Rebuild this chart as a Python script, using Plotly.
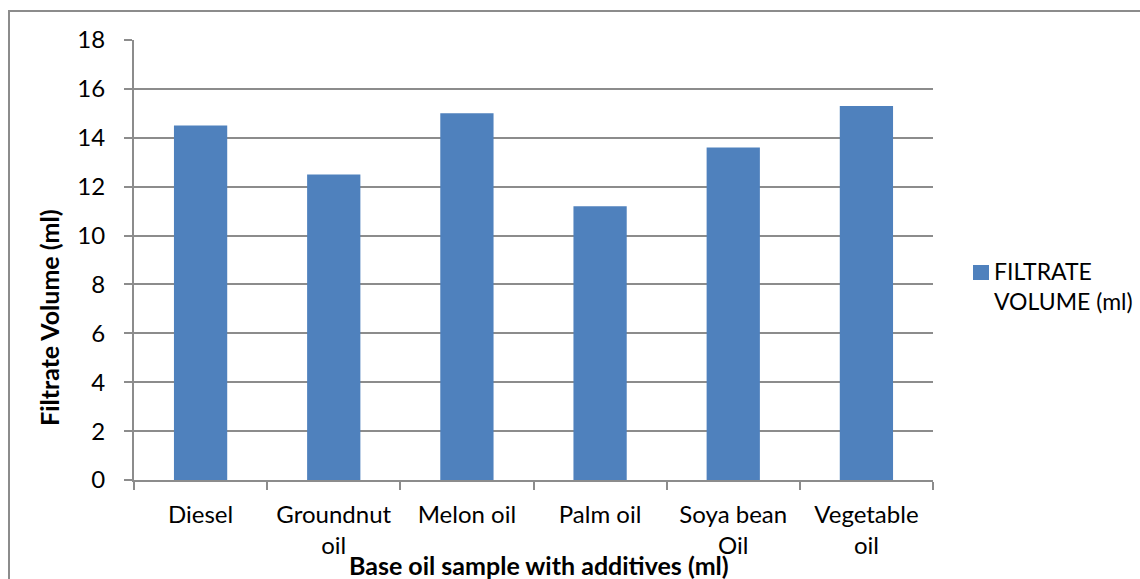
import plotly.graph_objects as go

# Filtrate volume of each base oil sample (with additives)
categories = ["Diesel", "Groundnut<br>oil", "Melon oil", "Palm oil", "Soya bean<br>Oil", "Vegetable<br>oil"]
filtrate_volume = [14.5, 12.5, 15.0, 11.2, 13.6, 15.3]
series_name = "FILTRATE<br>VOLUME (ml)"
y_ticks = [0, 2, 4, 6, 8, 10, 12, 14, 16, 18]

W, H = 1140, 579
L, R, T, B = 134, 207, 40, 99
FONT = "Lato"
GRID = "#8c8c8c"
BAR = "#4f81bd"

fig = go.Figure(
    go.Bar(
        x=categories,
        y=filtrate_volume,
        name=series_name,
        marker=dict(color=BAR, line=dict(width=0)),
        showlegend=False,
    )
)

def px_x(x):
    return (x - L) / (W - L - R)

def px_y(y):
    return (H - B - y) / (H - T - B)

fig.update_layout(
    width=W,
    height=H,
    margin=dict(l=L, r=R, t=T, b=B, pad=0, autoexpand=False),
    paper_bgcolor="white",
    plot_bgcolor="white",
    bargap=0.6,
    font=dict(family=FONT, size=24, color="black"),
    xaxis=dict(
        showline=True,
        linecolor=GRID,
        linewidth=2,
        ticks="outside",
        ticklen=8,
        tickwidth=2,
        tickcolor=GRID,
        tickson="boundaries",
        showgrid=False,
        tickfont=dict(family=FONT, size=24),
        ticklabelstandoff=12,
    ),
    yaxis=dict(
        range=[0, 18],
        tickvals=y_ticks,
        showline=True,
        linecolor=GRID,
        linewidth=2,
        ticks="outside",
        ticklen=8,
        tickwidth=2,
        tickcolor=GRID,
        showgrid=True,
        gridcolor=GRID,
        gridwidth=2,
        zeroline=False,
        tickfont=dict(family=FONT, size=24),
        ticklabelstandoff=14,
    ),
    annotations=[
        dict(
            text="<b>Filtrate Volume (ml)</b>",
            xref="paper", yref="paper",
            x=px_x(49), y=px_y(318),
            xanchor="center", yanchor="middle",
            textangle=-90,
            showarrow=False,
            font=dict(family=FONT, size=25),
        ),
        dict(
            text="<b>Base oil sample with additives (ml)</b>",
            xref="paper", yref="paper",
            x=px_x(539), y=px_y(565),
            xanchor="center", yanchor="middle",
            showarrow=False,
            font=dict(family=FONT, size=25),
        ),
        # series key text
        dict(
            text=series_name,
            xref="paper", yref="paper",
            x=px_x(993), y=px_y(256),
            xanchor="left", yanchor="top",
            align="left",
            showarrow=False,
            borderpad=0,
            font=dict(family=FONT, size=23),
        ),
    ],
    shapes=[
        dict(
            type="rect",
            xref="paper", yref="paper",
            x0=px_x(9), y0=px_y(11), x1=px_x(W + 10), y1=px_y(H + 10),
            line=dict(color=GRID, width=2),
            fillcolor="rgba(0,0,0,0)",
            layer="below",
        ),
        # series key swatch
        dict(
            type="rect",
            xref="paper", yref="paper",
            x0=px_x(973), y0=px_y(265), x1=px_x(989), y1=px_y(280),
            line=dict(width=0),
            fillcolor=BAR,
        ),
    ],
)

fig.write_html("out.html")
